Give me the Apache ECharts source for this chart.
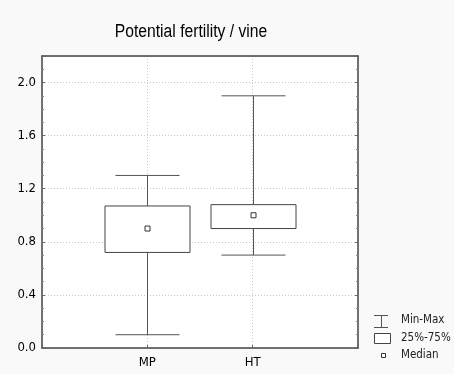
<!DOCTYPE html>
<html>
<head>
<meta charset="utf-8">
<script src="https://cdn.jsdelivr.net/npm/echarts@6/dist/echarts.min.js"></script>
<style>
html, body { margin: 0; padding: 0; background: #f9f9f9; }
#container { width: 454px; height: 374px; }
</style>
</head>
<body>
<div id="container"></div>
<script>
var titleText = 'Potential fertility / vine';
var categories = ['MP', 'HT'];
var minVals = [0.10, 0.70];
var q1Vals = [0.72, 0.90];
var medianVals = [0.90, 1.00];
var q3Vals = [1.07, 1.08];
var maxVals = [1.30, 1.90];

var font = '"DejaVu Sans Condensed", "Liberation Sans", Arial, sans-serif';
var dom = document.getElementById("container");
var myChart = echarts.init(dom);

var boxData = categories.map(function (c, i) {
    return [i + 1, minVals[i], q1Vals[i], medianVals[i], q3Vals[i], maxVals[i]];
});

function renderBox(params, api) {
    var x = api.value(0);
    var pMin = api.coord([x, api.value(1)]);
    var pQ1 = api.coord([x, api.value(2)]);
    var pMed = api.coord([x, api.value(3)]);
    var pQ3 = api.coord([x, api.value(4)]);
    var pMax = api.coord([x, api.value(5)]);
    var cx = Math.round(pMin[0]) + 0.5;
    var boxW = 85, capW = 64;
    var line = {stroke: '#555', lineWidth: 1};
    return {
        type: 'group',
        children: [
            {type: 'line', shape: {x1: cx, y1: pMin[1], x2: cx, y2: pMax[1]}, style: line},
            {type: 'line', shape: {x1: cx - capW / 2, y1: pMin[1], x2: cx + capW / 2, y2: pMin[1]}, style: line},
            {type: 'line', shape: {x1: cx - capW / 2, y1: pMax[1], x2: cx + capW / 2, y2: pMax[1]}, style: line},
            {type: 'rect', shape: {x: cx - boxW / 2, y: pQ3[1], width: boxW, height: pQ1[1] - pQ3[1]},
                style: {fill: '#fff', stroke: '#444', lineWidth: 1}},
            {type: 'rect', shape: {x: cx - 2.5, y: pMed[1] - 2.5, width: 5, height: 5},
                style: {fill: '#fff', stroke: '#333', lineWidth: 1}}
        ]
    };
}

var axisLine = {show: true, onZero: false, lineStyle: {color: '#444', width: 1.5}};

option = {
    backgroundColor: '#f9f9f9',
    animation: false,
    grid: {
        left: 42, right: 96, top: 56, bottom: 26,
        show: true, backgroundColor: '#fff', borderWidth: 0
    },
    xAxis: [{
        type: 'value',
        min: 0, max: 3, interval: 1,
        position: 'bottom',
        axisLine: axisLine,
        axisTick: {inside: true, length: 3, lineStyle: {color: '#666'}},
        axisLabel: {
            fontFamily: font, fontSize: 13, color: '#000', margin: 8,
            formatter: function (v) { return categories[v - 1] || ''; }
        },
        splitLine: {show: true, lineStyle: {color: '#c8c8c8', type: [1, 2]}}
    }, {
        type: 'value',
        min: 0, max: 3, interval: 1,
        position: 'top',
        axisLine: axisLine,
        axisTick: {show: false},
        axisLabel: {show: false},
        splitLine: {show: false}
    }],
    yAxis: [{
        type: 'value',
        min: 0, max: 2.2, interval: 0.4,
        position: 'left',
        axisLine: axisLine,
        axisTick: {show: true, inside: true, length: 3, lineStyle: {color: '#666'}},
        minorTick: {show: true, splitNumber: 4, length: 2, lineStyle: {color: '#888'}},
        axisLabel: {
            fontFamily: font, fontSize: 13, color: '#000', margin: 6, showMaxLabel: false,
            formatter: function (v) { return v.toFixed(1); }
        },
        splitLine: {show: true, lineStyle: {color: '#c8c8c8', type: [1, 2]}}
    }, {
        type: 'value',
        min: 0, max: 2.2, interval: 0.4,
        position: 'right',
        axisLine: axisLine,
        axisTick: {show: true, inside: true, length: 3, lineStyle: {color: '#666'}},
        minorTick: {show: true, splitNumber: 4, length: 2, lineStyle: {color: '#888'}},
        axisLabel: {show: false},
        splitLine: {show: false}
    }],
    series: [{
        type: 'custom',
        name: 'box',
        xAxisIndex: 0,
        yAxisIndex: 0,
        renderItem: renderBox,
        encode: {x: 0, y: [1, 5]},
        data: boxData
    }],
    graphic: [
        {type: 'text', x: 191, y: 32, scaleX: 0.87,
            style: {text: titleText, fontFamily: '"Liberation Sans", Arial, sans-serif', fontSize: 18,
                fill: '#000', textAlign: 'center', textVerticalAlign: 'middle'}},
        {type: 'line', shape: {x1: 374, y1: 315.5, x2: 388, y2: 315.5}, style: {stroke: '#555', lineWidth: 1}},
        {type: 'line', shape: {x1: 374, y1: 327.5, x2: 388, y2: 327.5}, style: {stroke: '#555', lineWidth: 1}},
        {type: 'line', shape: {x1: 381.5, y1: 315.5, x2: 381.5, y2: 327.5}, style: {stroke: '#555', lineWidth: 1}},
        {type: 'text', left: 401, top: 314, style: {text: 'Min-Max', fontFamily: font, fontSize: 11.5, fill: '#222'}},
        {type: 'rect', shape: {x: 374.5, y: 333.5, width: 16, height: 10}, style: {fill: '#fff', stroke: '#444', lineWidth: 1}},
        {type: 'text', left: 401, top: 332, style: {text: '25%-75%', fontFamily: font, fontSize: 11.5, fill: '#222'}},
        {type: 'rect', shape: {x: 381.5, y: 353.5, width: 4, height: 4}, style: {fill: '#fff', stroke: '#333', lineWidth: 1}},
        {type: 'text', left: 401, top: 349, style: {text: 'Median', fontFamily: font, fontSize: 11.5, fill: '#222'}}
    ]
};
if (option && typeof option === "object") {
    myChart.setOption(option, true);
}
</script>
</body>
</html>
